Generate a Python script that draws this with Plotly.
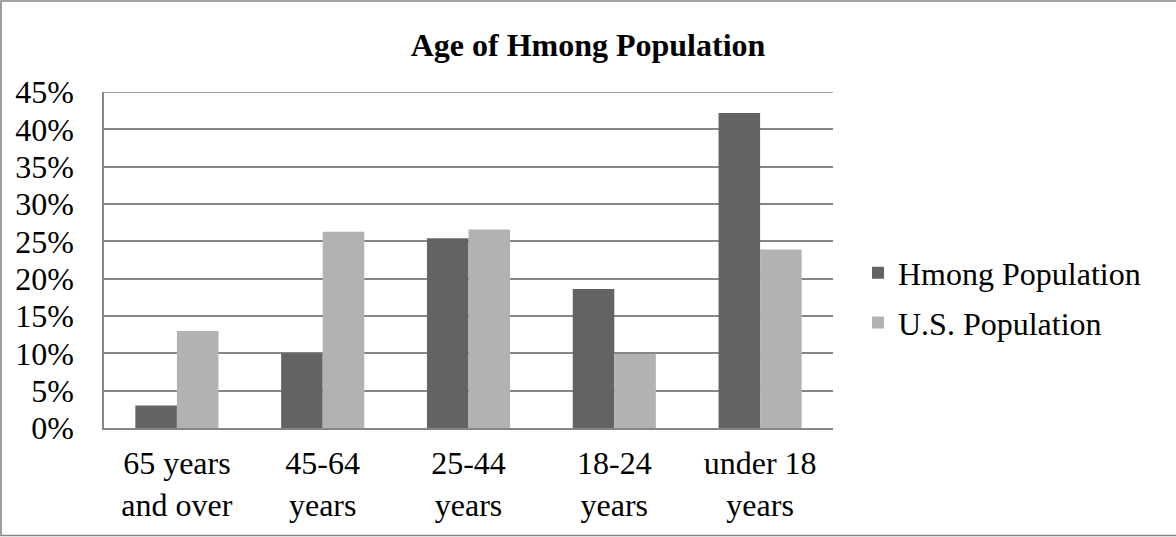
import plotly.graph_objects as go

categories = ["65 years<br>and over", "45-64<br>years", "25-44<br>years", "18-24<br>years", "under 18<br>years"]
hmong = [3.0, 10.0, 25.4, 18.6, 42.2]
us = [13.0, 26.3, 26.6, 9.9, 23.9]
y_ticks = [0, 5, 10, 15, 20, 25, 30, 35, 40, 45]
y_tick_text = [f"{v}%" for v in y_ticks]

FONT = "Liberation Serif"
GRID = "#868686"
FS = 32

fig = go.Figure()
fig.add_trace(go.Bar(name="Hmong Population", x=categories, y=hmong,
                     marker=dict(color="#636363", line=dict(width=0)), legendgroup="a"))
fig.add_trace(go.Bar(name="U.S. Population", x=categories, y=us,
                     marker=dict(color="#b2b2b2", line=dict(width=0)), legendgroup="b"))

W, H = 1176, 537
L, R, T, B = 104, 833, 92, 428

def px_x(p):
    return (p - L) / (R - L)

def px_y(p):
    return (B - p) / (B - T)

fig.update_layout(
    width=W, height=H,
    margin=dict(l=L, r=W - R, t=T, b=H - B, pad=0),
    paper_bgcolor="white", plot_bgcolor="white",
    barmode="group", bargap=0.43, bargroupgap=0,
    font=dict(family=FONT, size=FS, color="black"),
    title=dict(text="<b>Age of Hmong Population</b>", x=0.5, xanchor="center",
               y=1 - 45 / H, yanchor="middle", yref="container",
               font=dict(family=FONT, size=FS, color="black")),
    showlegend=True,
    legend=dict(x=px_x(858), xanchor="left", y=px_y(298), yanchor="middle",
                font=dict(family=FONT, size=FS, color="black"),
                tracegroupgap=5, itemwidth=30, bgcolor="rgba(0,0,0,0)"),
    xaxis=dict(showgrid=False, showline=True, linecolor=GRID, linewidth=1.6,
               ticks="", tickfont=dict(family=FONT, size=FS, color="black"),
               ticklabelstandoff=6, fixedrange=True),
    yaxis=dict(range=[0, 45], tickmode="array", tickvals=y_ticks, ticktext=y_tick_text,
               showgrid=True, gridcolor=GRID, gridwidth=1.5, showline=True, linecolor=GRID,
               linewidth=1.6, ticks="", zeroline=False, ticklabelstandoff=22,
               tickfont=dict(family=FONT, size=FS, color="black"), fixedrange=True),
    shapes=[
        dict(type="rect", xref="paper", yref="paper",
             x0=px_x(1), x1=px_x(W + 2), y0=px_y(H - 1.5), y1=px_y(1),
             line=dict(color=GRID, width=1.6), fillcolor="rgba(0,0,0,0)", layer="below"),
        dict(type="line", xref="paper", yref="y", x0=0, x1=1,
             y0=y_ticks[-1], y1=y_ticks[-1], line=dict(color=GRID, width=1.5), layer="below"),
    ],
)

fig.write_html("out.html", config={"displayModeBar": False},
               post_script="document.body.style.margin='0';document.body.style.padding='0';")
